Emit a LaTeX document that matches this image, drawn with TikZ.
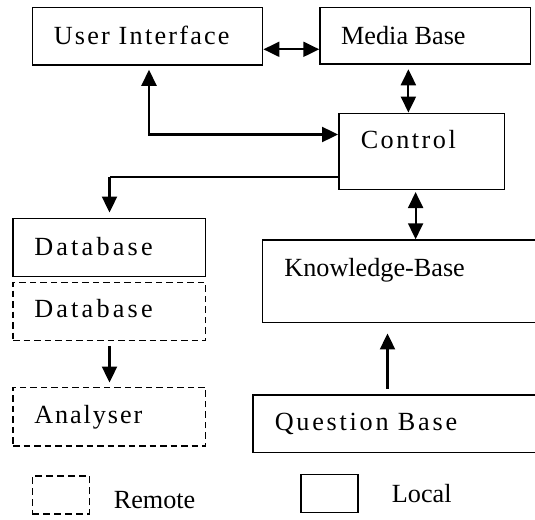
\documentclass[tikz,border=0pt]{standalone}
\usepackage{fontspec}
\setmainfont{Liberation Serif}
\usetikzlibrary{arrows.meta,fit,calc}
\tikzset{
  box/.style={draw, line width=1.5pt, inner sep=0pt, rectangle},
  rbox/.style={box, dash pattern=on 6.5pt off 4pt},
  lbl/.style={inner sep=0pt, anchor=base west, font=\fontsize{26.2}{30}\selectfont},
  arr/.style={line width=2.1pt, -{Triangle[length=16pt,width=15pt]}},
  darr/.style={line width=2.1pt, {Triangle[length=16pt,width=15pt]}-{Triangle[length=16pt,width=15pt]}},
  plain/.style={line width=1.7pt}
}
\begin{document}
\begin{tikzpicture}[x=1pt,y=-1pt]
\useasboundingbox (0,0) rectangle (535,519);
\clip (0,0) rectangle (535,519);
\fill[white] (0,0) rectangle (535,519);
% boxes
\node[box, fit={(32.4,7.3) (262.7,65)}] (ui) {};
\node[box, fit={(320,7.3) (530.7,64)}] (mb) {};
\node[box, fit={(338.8,113.3) (504.3,189.5)}] (ctl) {};
\node[box, fit={(13,218.3) (205.4,276.7)}] (db) {};
\node[rbox, fit={(13,282.3) (205.4,340.7)}] (dbr) {};
\node[rbox, fit={(13,387.3) (205.4,446)}] (an) {};
\node[box, fit={(262.7,240) (545,322.7)}] (kb) {};
\node[box, fit={(253.2,395) (545,452.3)}] (qb) {};
\node[rbox, dash pattern=on 7pt off 4pt, fit={(32.4,476) (89.7,514)}] (lgr) {};
\node[box, fit={(301,474.3) (358.2,512.7)}] (lgl) {};
% texts
\node[lbl] (uit) at (53.6,44.3) {\addfontfeature{LetterSpace=8.5}User Interface};
\node[lbl] (mbt) at (341,44.3) {Media Base};
\node[lbl] (ctlt) at (360.6,148.3) {\addfontfeature{LetterSpace=9.5}Control};
\node[lbl] (dbt) at (34.1,255) {\addfontfeature{LetterSpace=12.2}Database};
\node[lbl] (dbrt) at (34.1,317.7) {\addfontfeature{LetterSpace=12.2}Database};
\node[lbl] (kbt) at (284.2,276) {Knowledge-Base};
\node[lbl] (ant) at (34.1,423.3) {\addfontfeature{LetterSpace=7.3}Analyser};
\node[lbl] (qbt) at (274.6,430.7) {\addfontfeature{LetterSpace=10.5}Question Base};
\node[lbl] (rmt) at (113.6,508.3) {Remote};
\node[lbl] (lct) at (391.7,502.3) {Local};
% helper coordinates
\coordinate (y1) at (0,49.3);
\coordinate (j) at (149,134.5);
\coordinate (x2) at (408.4,0);
\coordinate (y4) at (0,176.8);
\coordinate (x4) at (109.5,0);
\coordinate (x6) at (415.6,0);
\coordinate (x7) at (387.5,0);
% connectors
\draw[darr] (ui.east |- y1) -- (mb.west |- y1);
\draw[darr] ($(ui.south -| j)+(0,4)$) -- (j) -- (ctl.west |- j);
\draw[darr] ($(mb.south -| x2)+(0,4.5)$) -- (ctl.north -| x2);
\draw[plain] (ctl.west |- y4) -- (x4 |- y4);
\draw[arr] (x4 |- y4) -- ($(db.north -| x4)+(0,-5)$);
\draw[arr] ($(dbr.south -| x4)+(0,4.3)$) -- ($(an.north -| x4)+(0,-4)$);
\draw[darr] ($(ctl.south -| x6)+(0,1.8)$) -- (kb.north -| x6);
\draw[arr] ($(qb.north -| x7)+(0,-5.5)$) -- ($(kb.south -| x7)+(0,10)$);
\end{tikzpicture}
\end{document}
